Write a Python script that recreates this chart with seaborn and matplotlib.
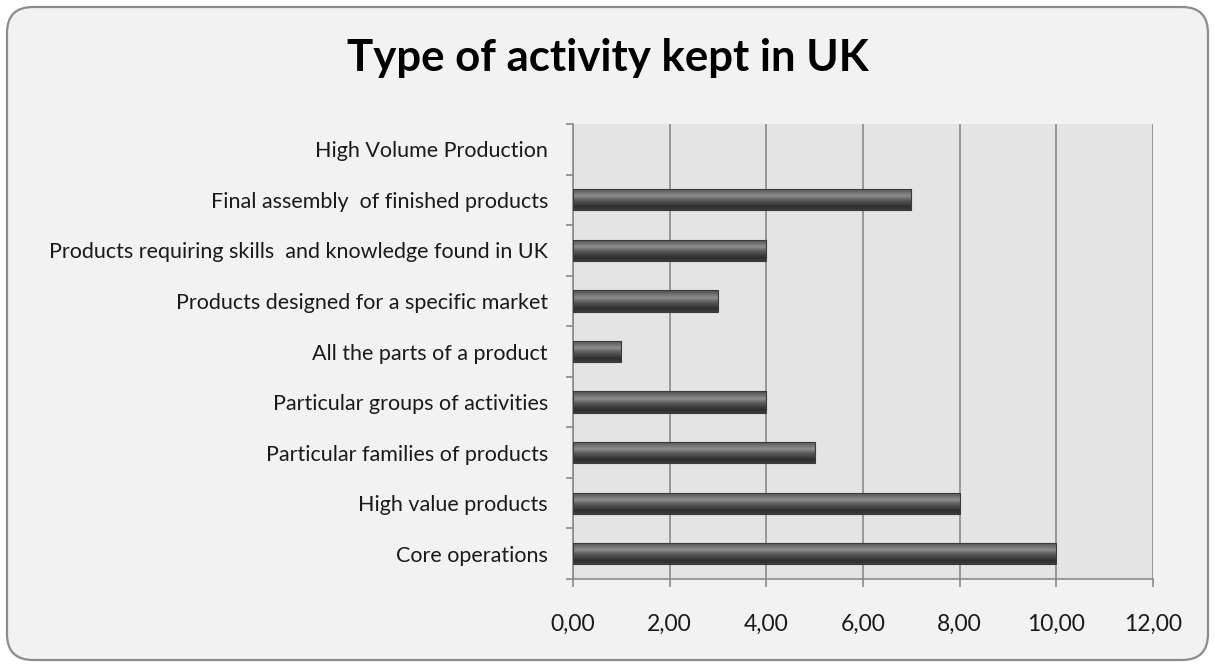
import numpy as np
import pandas as pd
import matplotlib
matplotlib.use("Agg")
import matplotlib.pyplot as plt
import seaborn as sns
from matplotlib.patches import FancyBboxPatch
from matplotlib.ticker import FixedLocator, FuncFormatter
from matplotlib.colors import LinearSegmentedColormap

categories = [
    "High Volume Production",
    "Final assembly  of finished products",
    "Products requiring skills  and knowledge found in UK",
    "Products designed for a specific market",
    "All the parts of a product",
    "Particular groups of activities",
    "Particular families of products",
    "High value products",
    "Core operations",
]
values = [0, 7, 4, 3, 1, 4, 5, 8, 10]
x_ticks = [0, 2, 4, 6, 8, 10, 12]
title = "Type of activity kept in UK"

df = pd.DataFrame({"activity": categories, "count": values})

sns.set_theme(style="white")
plt.rcParams["font.family"] = ["Lato", "DejaVu Sans"]

W, H = 1215, 666
fig = plt.figure(figsize=(W / 100, H / 100), dpi=100, facecolor="white")

# rounded chart frame drawn in pixel coordinates so corners stay circular
bg = fig.add_axes([0, 0, 1, 1], zorder=0)
bg.set_xlim(0, W)
bg.set_ylim(0, H)
bg.axis("off")
frame = FancyBboxPatch((7, 6), W - 14, H - 13,
                       boxstyle="round,pad=0,rounding_size=26",
                       facecolor="#f2f2f2", edgecolor="#8c8c8c", linewidth=1.6)
bg.add_patch(frame)

ax = fig.add_axes([573 / W, 1 - 579 / H, (1153 - 573) / W, (579 - 124) / H], zorder=1)
ax.set_facecolor("#e4e4e4")

sns.barplot(data=df, y="activity", x="count", order=categories, orient="h",
            color="#555555", width=0.42, ax=ax, zorder=3, linewidth=0)

# cylinder-style shading on each bar
shade = LinearSegmentedColormap.from_list(
    "bar_shade",
    [(0.0, "#4a4a4a"), (0.08, "#5c5c5c"), (0.35, "#8e8e8e"),
     (0.55, "#5a5a5a"), (0.85, "#2e2e2e"), (1.0, "#3c3c3c")])
grad = np.linspace(0, 1, 64).reshape(-1, 1)
for patch in ax.patches:
    x0, y0 = patch.get_x(), patch.get_y()
    w, h = patch.get_width(), patch.get_height()
    if w <= 0:
        continue
    im = ax.imshow(grad, cmap=shade, aspect="auto", interpolation="bilinear",
                   extent=(x0, x0 + w, y0 + h, y0), zorder=4)
    im.set_clip_path(patch)
    ax.add_patch(plt.Rectangle((x0, y0), w, h, fill=False,
                               edgecolor="#3a3a3a", linewidth=0.8, zorder=5))

ax.set_xlim(0, 12)
ax.set_ylim(len(categories) - 0.5, -0.5)
ax.xaxis.set_major_locator(FixedLocator(x_ticks))
ax.xaxis.set_major_formatter(FuncFormatter(lambda v, p: f"{v:.2f}".replace(".", ",")))
ax.grid(axis="x", color="#8a8a8a", linewidth=1.2, zorder=1)
ax.set_axisbelow(True)

ax.set_yticks(range(len(categories)))
ax.set_yticklabels(categories)
ax.yaxis.set_minor_locator(FixedLocator(np.arange(-0.5, len(categories), 1.0)))
ax.tick_params(axis="y", which="major", length=0, pad=18, labelsize=15.5, labelcolor="#1a1a1a")
ax.tick_params(axis="y", which="minor", length=5, width=1.2, color="#8a8a8a", direction="out", left=True)
ax.tick_params(axis="x", length=6, width=1.2, color="#8a8a8a", direction="out", bottom=True,
               pad=19, labelsize=16.5, labelcolor="#1a1a1a")

for side in ["top", "right"]:
    ax.spines[side].set_visible(False)
for side in ["left", "bottom"]:
    ax.spines[side].set_color("#8a8a8a")
    ax.spines[side].set_linewidth(1.2)

ax.set_xlabel("")
ax.set_ylabel("")

fig.text(608 / W, 1 - 58 / H, title, ha="center", va="center",
         fontsize=31.5, fontweight="bold", color="#000000")

fig.savefig("out.png", dpi=100, facecolor="white")
